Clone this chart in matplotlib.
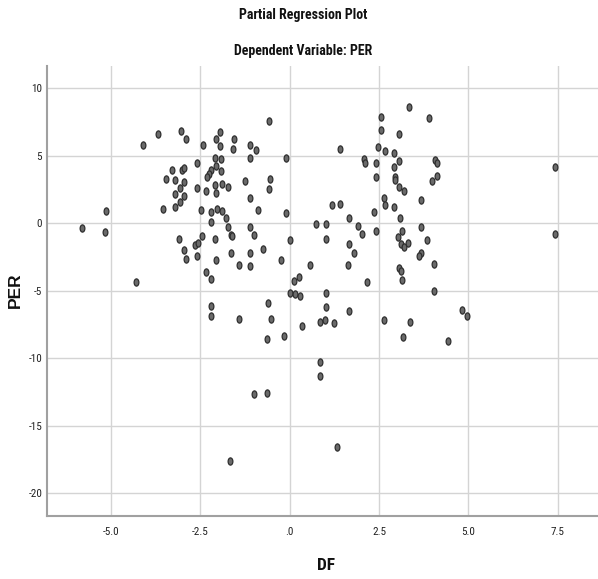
import matplotlib
matplotlib.use("Agg")
import matplotlib.pyplot as plt
from matplotlib import font_manager
from matplotlib.path import Path
from matplotlib.transforms import Affine2D

# ---------------- data ----------------
df_vals = [
    -3.69, -3.03, -2.90, -4.10, -2.58, -3.29, -3.02, -2.94, -3.45, -3.20, -2.94, -3.07, -2.59, -3.20, -2.94,
    -3.07, -3.20, -3.55, -5.13, -2.48, -5.79, -5.16, -3.10,
    -2.94, -2.90, -2.63, -2.57, -2.58, -4.28,
    -0.58, -1.94, -2.07, -1.54, -2.43, -1.94, -1.58, -1.10, -0.94, 1.42, -2.09, -1.93, -1.10, -0.10, -2.07,
    -1.93, -2.19, -2.26, -2.31, -1.25, -0.54, -0.58, -2.33, -2.09, -2.07, -1.89, -1.72, -1.10, -0.87, -0.10,
    -2.20, -2.20, -2.03, -1.90, -1.77, -1.73, -1.12, 1.19, 1.42, 0.74, 1.03, 1.66,
    -2.46, -2.09, -1.65, -1.60, -0.99, 0.02, 1.03, 1.66, -2.07, -2.33, -2.20, -1.64, -1.10, -0.74, -1.40,
    -1.10, -0.24, 0.56, 1.64, 0.13, 0.25, 0.02, 0.14, 0.28, 1.03, 1.03, 1.66, -2.20, -2.20, -1.40, -0.59,
    -0.52, -0.64, -0.15, 0.35, 0.86, 0.98, 1.25, 0.86, 0.86, -0.99, -0.64,
    1.90, 2.03, 2.41, 1.81, 2.15, 3.04, 3.15, 3.11, 3.20, 3.32, 3.67, 3.85, 3.67, 3.62, 4.03, 3.06, 3.11,
    3.15, 4.03, 2.63, 3.36, 3.17, 4.42, 4.82, 4.96, 7.43,
    3.34, 3.89, 2.55, 2.55, 3.06, 2.46, 2.68, 2.93, 3.06, 2.93, 2.07, 2.11, 2.42, 2.42, 2.94, 2.94, 3.06,
    3.20, 4.06, 4.11, 4.11, 3.99, 2.63, 2.68, 2.93, 3.67, 2.35, 3.10,
    7.43, -1.66, 1.33,
]
per_vals = [
    6.61, 6.81, 6.22, 5.80, 4.44, 3.95, 3.95, 4.07, 3.30, 3.21, 3.06, 2.64, 2.59, 2.17, 2.05,
    1.60, 1.21, 1.06, 0.91, 0.98, -0.35, -0.66, -1.15,
    -1.98, -2.67, -1.61, -1.43, -2.42, -4.35,
    7.55, 6.76, 6.27, 6.22, 5.78, 5.73, 5.53, 5.83, 5.43, 5.48, 4.84, 4.79, 4.84, 4.84, 4.24,
    3.90, 3.95, 3.65, 3.41, 3.11, 3.26, 2.57, 2.42, 2.81, 2.27, 2.91, 2.71, 1.85, 0.99, 0.79,
    0.86, 0.12, 1.08, 0.94, 0.39, -0.27, -0.27, 1.38, 1.45, -0.02, -0.05, 0.40,
    -0.97, -1.14, -0.88, -0.95, -0.84, -1.24, -1.19, -1.53, -2.72, -3.58, -4.15, -2.18, -2.18, -1.88, -3.11,
    -3.16, -2.72, -3.07, -3.07, -4.25, -4.00, -5.19, -5.24, -5.39, -5.19, -6.22, -6.52, -6.13, -6.84, -7.11, -5.88,
    -7.11, -8.57, -8.33, -7.58, -7.29, -7.16, -7.41, -10.30, -11.31, -12.62, -12.57,
    -0.22, -0.82, -0.56, -2.20, -4.35, -0.99, -0.59, -1.53, -1.78, -1.48, -0.25, -1.25, -2.22, -2.45, -2.99, -3.33, -3.51,
    -4.20, -4.99, -7.16, -7.31, -8.40, -8.72, -6.42, -6.84, -0.79,
    8.64, 7.80, 7.90, 6.91, 6.61, 5.63, 5.33, 5.19, 4.64, 4.19, 4.74, 4.49, 4.44, 3.45, 3.40, 3.21, 2.67,
    2.37, 4.69, 4.44, 3.50, 3.16, 1.87, 1.33, 1.23, 1.73, 0.84, 0.40,
    4.20, -17.60, -16.60,
]

x_ticks = [-5.0, -2.5, 0.0, 2.5, 5.0, 7.5]
x_tick_labels = ["-5.0", "-2.5", ".0", "2.5", "5.0", "7.5"]
y_ticks = [10, 5, 0, -5, -10, -15, -20]
y_tick_labels = ["10", "5", "0", "-5", "-10", "-15", "-20"]

title = "Partial Regression Plot"
subtitle = "Dependent Variable: PER"
x_label = "DF"
y_label = "PER"

# ---------------- style ----------------
avail = {f.name for f in font_manager.fontManager.ttflist}
def pick(cands):
    out = [f for f in cands if f in avail]
    return out + ["DejaVu Sans"] if "DejaVu Sans" not in out else out

narrow = pick(["Roboto Condensed", "PT Sans Narrow", "Archivo Narrow", "Liberation Sans"])
wide = pick(["Liberation Sans", "DejaVu Sans"])
plt.rcParams["font.family"] = narrow

W, H = 598, 579
fig = plt.figure(figsize=(W / 100, H / 100), dpi=100)
fig.patch.set_facecolor("white")

left, right, bottom, top = 47, 598, 515.7, 66
ax = fig.add_axes([left / W, 1 - bottom / H, (right - left) / W, (bottom - top) / H])

ellipse = Path.unit_circle().transformed(Affine2D().scale(0.66, 1.0))
ax.scatter(df_vals, per_vals, s=27, marker=ellipse, c="#6a6a6a", edgecolors="#2e2e2e",
           linewidths=0.9, zorder=3)

ax.set_xlim(-6.78, 8.62)
ax.set_ylim(-21.66, 11.65)
ax.set_xticks(x_ticks)
ax.set_xticklabels(x_tick_labels)
ax.set_yticks(y_ticks)
ax.set_yticklabels(y_tick_labels)
ax.tick_params(axis="both", length=0, labelsize=8, colors="#222222")
ax.tick_params(axis="x", pad=8)
ax.tick_params(axis="y", pad=3.5)

ax.grid(True, color="#d4d4d4", linewidth=1.0, zorder=0)
ax.set_axisbelow(True)
for s in ["top", "right"]:
    ax.spines[s].set_visible(False)
for s in ["left", "bottom"]:
    ax.spines[s].set_color("#a0a0a0")
    ax.spines[s].set_linewidth(1.5)

fig.text(326 / W, 1 - 565 / H, x_label, ha="center", va="center", fontsize=12.5, fontweight="bold",
         color="#111111")
fig.text(15 / W, 1 - 290 / H, y_label, ha="center", va="center", rotation=90, fontsize=12.5,
         fontweight="bold", color="#111111", family=wide)
fig.text(303 / W, 1 - 15 / H, title, ha="center", va="center", fontsize=10, fontweight="bold",
         color="#111111")
fig.text(303 / W, 1 - 51 / H, subtitle, ha="center", va="center", fontsize=10, fontweight="bold",
         color="#111111")

fig.savefig("out.png", dpi=100)
